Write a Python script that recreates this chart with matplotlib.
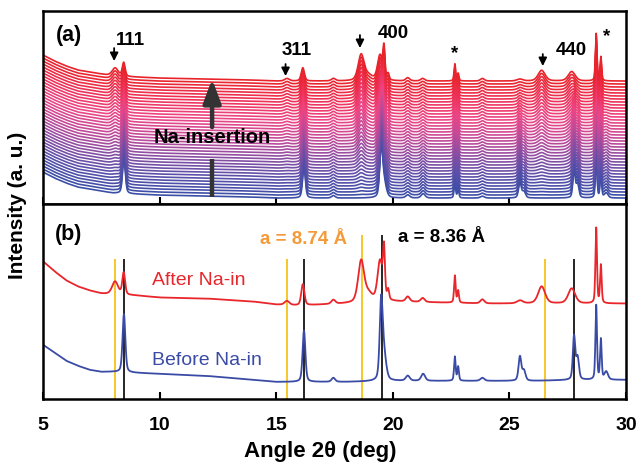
import numpy as np
import matplotlib
matplotlib.use('Agg')
import matplotlib.pyplot as plt
from matplotlib.colors import LinearSegmentedColormap

plt.rcParams['font.family'] = ['Liberation Sans', 'DejaVu Sans']

# XRD peaks: position (deg), height, FWHM (deg)
before_pos = [8.47, 16.19, 17.45, 19.50, 19.62, 20.64, 21.30, 22.66, 22.80, 23.84, 25.45, 25.62, 27.77, 27.92, 28.72, 28.92, 29.15]
before_hgt = [58, 51, 4, 75, 25, 5, 7, 24, 14, 3, 24, 10, 43, 22, 74, 40, 8]
before_fwhm = [0.14, 0.14, 0.18, 0.15, 0.22, 0.2, 0.2, 0.08, 0.08, 0.2, 0.14, 0.16, 0.12, 0.14, 0.08, 0.08, 0.18]

after_pos = [8.09, 8.46, 15.46, 16.14, 17.45, 18.64, 18.95, 19.45, 19.62, 19.80, 20.64, 21.28, 22.66, 22.80, 23.84, 25.45, 26.38, 27.67, 28.72, 28.92]
after_hgt = [13, 22, 4, 21, 4, 41, 8, 40, 47, 10, 5, 4, 27, 12, 4, 3, 17, 15, 75, 38]
after_fwhm = [0.3, 0.14, 0.24, 0.16, 0.2, 0.3, 0.4, 0.25, 0.1, 0.1, 0.2, 0.2, 0.08, 0.08, 0.2, 0.3, 0.35, 0.35, 0.08, 0.08]

# backgrounds (control points)
bg_x = [5, 5.5, 6, 6.5, 7, 7.5, 8, 9, 10, 12, 14, 15, 16, 18, 20, 22, 24, 26, 28, 30]
after_bg = [137, 127, 118, 112, 108, 105, 104, 103, 101, 100, 97, 94, 93, 95, 97, 96, 95, 95, 95, 95]
before_bg = [54, 46, 38, 33, 29, 27, 27, 26, 25, 23, 19, 17, 17, 17, 18, 18, 18, 18, 19, 19]
stack_bg = [26, 20, 15, 11, 9, 7, 5, 4, 3, 2, 1, 0, 0, 0, 0, 0, 0, 0, 0, 0]

# fraction of the Na-rich phase in each scan of the in-situ series
conversion = [0.00, 0.02, 0.04, 0.06, 0.08, 0.10, 0.12, 0.15, 0.17, 0.20,
              0.22, 0.25, 0.27, 0.30, 0.32, 0.35, 0.38, 0.40, 0.43, 0.46,
              0.49, 0.52, 0.55, 0.58, 0.61, 0.64, 0.67, 0.70, 0.73, 0.76,
              0.79, 0.82, 0.85, 0.88, 0.90, 0.93, 0.95, 0.97, 0.99, 1.00]

# reference lines for the two lattice parameters
lines_874 = [8.09, 15.46, 18.67, 26.54]
lines_836 = [8.46, 16.18, 19.54, 27.77]
line_tops = [139, 139, 163, 139]


def pattern(x, pos, hgt, fwhm, eta=0.4):
    y = np.zeros_like(x)
    for p, h, w in zip(pos, hgt, fwhm):
        d = (x - p) / w
        y += h * (eta / (1 + 4 * d**2) + (1 - eta) * np.exp(-4 * np.log(2) * d**2))
    return y


tt = np.linspace(5, 30, 2501)
pk_before = pattern(tt, before_pos, before_hgt, before_fwhm)
pk_after = pattern(tt, after_pos, after_hgt, after_fwhm)

red = '#e8262b'
blue = '#3a4ba6'
cmap = LinearSegmentedColormap.from_list('na', ['#3b4ea6', '#5a4fa9', '#8a4ea3', '#c44a98', '#ec4585', '#ee3056', '#e8232a'])

fig = plt.figure(figsize=(6.4, 4.64), dpi=100)
ax_a = fig.add_axes([0.0672, 0.558, 0.911, 0.416])
ax_b = fig.add_axes([0.0672, 0.138, 0.911, 0.420])

# (a) stacked in-situ patterns
n = len(conversion)
for i, c in enumerate(conversion):
    y = 6 + 3.0 * i + np.interp(tt, bg_x, stack_bg) + 0.63 * ((1 - c) * pk_before + c * pk_after)
    ax_a.plot(tt, y, color=cmap(i / (n - 1)), lw=1.2)

ax_a.set_xlim(5, 30)
ax_a.set_ylim(0, 193)

arr = dict(arrowstyle='-|>,head_width=0.3,head_length=0.6', color='k', lw=1.3,
           mutation_scale=8, shrinkA=0, shrinkB=0)
for x0, y0, y1 in [(8.05, 156, 143), (15.4, 140, 128), (18.59, 169, 156), (26.43, 150, 138)]:
    ax_a.annotate('', xy=(x0, y1), xytext=(x0, y0), arrowprops=arr)
for s, x0, y0 in [('111', 8.73, 165), ('311', 15.87, 155), ('400', 20.04, 172), ('*', 22.67, 151),
                  ('440', 27.67, 155), ('*', 29.17, 168)]:
    ax_a.text(x0, y0, s, ha='center', va='center', fontsize=13.5, fontweight='bold')
ax_a.text(6.11, 170, '(a)', ha='center', va='center', fontsize=15.5, fontweight='bold')

# Na-insertion arrow
ax_a.plot([12.25, 12.25], [7, 45], color='#333333', lw=3.2, solid_capstyle='butt')
ax_a.annotate('', xy=(12.25, 125), xytext=(12.25, 77),
              arrowprops=dict(arrowstyle='-|>,head_width=0.45,head_length=1.2', color='#333333',
                              lw=3.2, mutation_scale=12, shrinkA=0, shrinkB=0))
ax_a.text(12.25, 68, 'Na-insertion', ha='center', va='center', fontsize=14.5, fontweight='bold')

# (b) before / after
ax_b.vlines(lines_874, 0, line_tops, color='#f7c21a', lw=1.3, zorder=1)
ax_b.vlines(lines_836, 0, line_tops, color='k', lw=1.2, zorder=1)
ax_b.plot(tt, np.interp(tt, bg_x, after_bg) + pk_after, color=red, lw=1.3, zorder=2)
ax_b.plot(tt, np.interp(tt, bg_x, before_bg) + pk_before, color=blue, lw=1.3, zorder=2)
ax_b.set_xlim(5, 30)
ax_b.set_ylim(0, 194)
ax_b.text(6.11, 165, '(b)', ha='center', va='center', fontsize=15.5, fontweight='bold')
ax_b.text(16.17, 160, 'a = 8.74 Å', ha='center', va='center', fontsize=13.5, fontweight='bold', color='#f59a38')
ax_b.text(22.11, 162, 'a = 8.36 Å', ha='center', va='center', fontsize=13.5, fontweight='bold', color='k')
ax_b.text(11.67, 119, 'After Na-in', ha='center', va='center', fontsize=14, color=red)
ax_b.text(12.01, 39.5, 'Before Na-in', ha='center', va='center', fontsize=14, color=blue)

for ax in (ax_a, ax_b):
    ax.set_xticks([5, 10, 15, 20, 25, 30])
    ax.set_yticks([])
    ax.tick_params(axis='x', direction='in', length=5, width=1.5, labelsize=14)
    for sp in ax.spines.values():
        sp.set_linewidth(1.8)
ax_a.tick_params(labelbottom=False)
for lab in ax_b.get_xticklabels():
    lab.set_fontweight('bold')
ax_b.tick_params(axis='x', pad=12)

fig.text(0.5, 0.004, 'Angle 2θ (deg)', ha='center', va='bottom', fontsize=16, fontweight='bold')
fig.text(0.028, 0.558, 'Intensity (a. u.)', ha='center', va='center', rotation=90, fontsize=15, fontweight='bold')

fig.savefig('out.png', dpi=100)
